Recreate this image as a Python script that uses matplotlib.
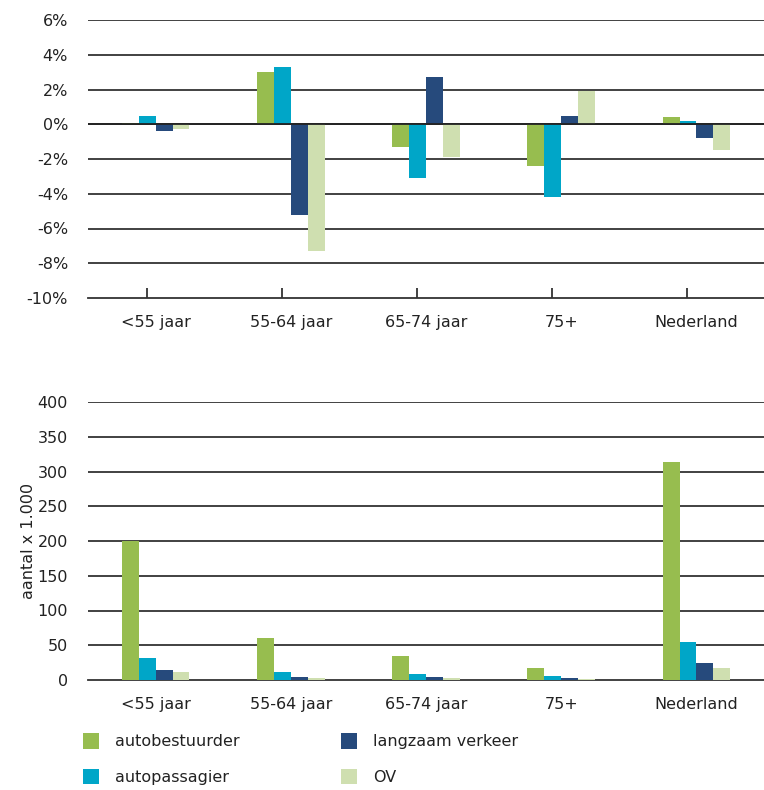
import numpy as np
import matplotlib
matplotlib.use("Agg")
import matplotlib.pyplot as plt
from matplotlib.patches import Patch

plt.rcParams['font.family'] = ['DejaVu Sans']

# data
categories = ["<55 jaar", "55-64 jaar", "65-74 jaar", "75+", "Nederland"]
series = ["autobestuurder", "autopassagier", "langzaam verkeer", "OV"]
colors = ["#97bd4f", "#00a6c8", "#264a7c", "#cfdfb0"]

# change in share (%)
pct_autobestuurder = [0.1, 3.0, -1.3, -2.4, 0.4]
pct_autopassagier = [0.5, 3.3, -3.1, -4.2, 0.2]
pct_langzaam = [-0.4, -5.2, 2.7, 0.5, -0.8]
pct_ov = [-0.3, -7.3, -1.9, 1.9, -1.5]

# number of trips x 1.000
n_autobestuurder = [200, 60, 34, 17, 313]
n_autopassagier = [32, 11, 8, 6, 54]
n_langzaam = [14, 4, 4, 3, 24]
n_ov = [11, 3, 3, 1, 17]

pct_ticks = [-10, -8, -6, -4, -2, 0, 2, 4, 6]
n_ticks = [0, 50, 100, 150, 200, 250, 300, 350, 400]

pct_data = [pct_autobestuurder, pct_autopassagier, pct_langzaam, pct_ov]
n_data = [n_autobestuurder, n_autopassagier, n_langzaam, n_ov]

fs = 11.5
txt = "#222222"
grid = "#333333"

fig = plt.figure(figsize=(7.64, 7.90), dpi=100)
ax1 = fig.add_axes([88/764, 1-298/790, 676/764, 278/790])
ax2 = fig.add_axes([88/764, 1-680/790, 676/764, 278/790])

x = np.arange(len(categories))
w = 0.125
offs = (np.arange(4) - 1.5) * w

for ax, data, ticks in [(ax1, pct_data, pct_ticks), (ax2, n_data, n_ticks)]:
    for k in range(4):
        ax.bar(x + offs[k], data[k], width=w, color=colors[k], zorder=3)
    ax.set_xlim(-0.5, 4.5)
    ax.set_ylim(ticks[0], ticks[-1])
    ax.set_yticks(ticks)
    for t in ticks[1:]:
        ax.axhline(t, color=grid, lw=1.3, zorder=1)
    for s in ["top", "right", "left"]:
        ax.spines[s].set_visible(False)
    ax.spines["bottom"].set_color(grid)
    ax.spines["bottom"].set_linewidth(1.3)
    ax.set_xticks(x)
    ax.set_xticklabels(categories)
    ax.tick_params(axis="x", length=0, pad=12.5, labelsize=fs, labelcolor=txt)
    ax.tick_params(axis="y", length=0, pad=14.4, labelsize=fs, labelcolor=txt)

ax1.set_yticklabels(["%d%%" % t for t in pct_ticks])
ax1.set_xticks(x - 0.066, minor=True)
ax1.tick_params(axis="x", which="minor", direction="in", length=7.5,
                width=1.3, color=grid)
ax1.axhline(0, color="#222222", lw=1.3, zorder=4)

ax2.set_yticklabels([str(t) for t in n_ticks])
ax2.set_ylabel("aantal x 1.000", fontsize=fs, color=txt, labelpad=1)

handles = [Patch(facecolor=c, edgecolor="none") for c in colors]
fig.legend(handles, series, loc="upper left", bbox_to_anchor=(83/764, 1-733/790),
           ncol=2, frameon=False, fontsize=fs, handlelength=1.0, handleheight=1.15,
           handletextpad=1.0, columnspacing=6.35, labelspacing=1.2,
           borderpad=0, borderaxespad=0, labelcolor=txt)

fig.savefig("out.png", dpi=100)
